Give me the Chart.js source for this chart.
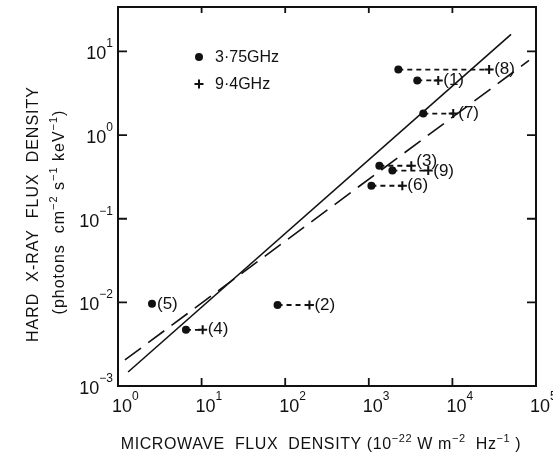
<!DOCTYPE html>
<html><head><meta charset="utf-8">
<script src="https://cdn.jsdelivr.net/npm/chart.js@4.4.1/dist/chart.umd.min.js"></script>
<style>html,body{margin:0;padding:0;background:#fff;}</style>
</head><body><canvas id="c" width="553" height="455"></canvas>
<script>
// ---- data ----
const eventLabels = ['(1)','(2)','(3)','(4)','(5)','(6)','(7)','(8)','(9)'];
const flux375 = [3800, 81, 1337, 6.5, 2.55, 1074, 4485, 2255, 1914];      // 3.75 GHz
const flux94  = [6770, 195, 3223, 10.3, null, 2518, 10230, 27500, 5140];  // 9.4 GHz
const hardXray = [4.5, 0.0093, 0.43, 0.0047, 0.0096, 0.248, 1.81, 6.08, 0.376];
const fitSolidX = [1.32, 50300];
const fitSolidY = [0.00147, 16.0];
const fitDashedX = [1.21, 82500];
const fitDashedY = [0.00205, 7.8];
const xTickValues = [1, 10, 100, 1000, 10000, 100000];
const xTickLabels = ['10^{0}','10^{1}','10^{2}','10^{3}','10^{4}','10^{5}'];
const yTickValues = [0.001, 0.01, 0.1, 1, 10];
const yTickLabels = ['10^{-3}','10^{-2}','10^{-1}','10^{0}','10^{1}'];
const legendLabels = ['3·75GHz', '9·4GHz'];
const xTitle = 'MICROWAVE  FLUX  DENSITY (10^{-22} W m^{-2}  Hz^{-1} )';
const yTitle = ['HARD  X-RAY  FLUX  DENSITY', '(photons  cm^{-2} s^{-1} keV^{-1})'];

// ---- styling ----
const INK = '#111';
const FONT = '"Liberation Sans", Arial, sans-serif';
const labelDy = [0, 0, -4, 0, 0, 0, 0, 0, 1];

// split "a^{b}c" into parts
function parseRich(s) {
  const parts = [];
  const re = /\^\{([^}]*)\}/g;
  let last = 0, m;
  while ((m = re.exec(s))) {
    if (m.index > last) parts.push({t: s.slice(last, m.index), sup: false});
    parts.push({t: m[1].replace(/-/g, '\u2212'), sup: true});
    last = re.lastIndex;
  }
  if (last < s.length) parts.push({t: s.slice(last), sup: false});
  return parts;
}
// draw rich text; align 'left' | 'right' | 'center'; y = alphabetic baseline
function drawRich(ctx, s, x, y, align, size, supSize, rise, spacing) {
  const parts = parseRich(s);
  ctx.save();
  ctx.textAlign = 'left';
  ctx.textBaseline = 'alphabetic';
  ctx.letterSpacing = (spacing || 0) + 'px';
  let total = 0;
  parts.forEach(p => {
    ctx.font = (p.sup ? supSize : size) + 'px ' + FONT;
    p.w = ctx.measureText(p.t).width;
    total += p.w;
  });
  let cx = align === 'left' ? x : align === 'right' ? x - total : x - total / 2;
  parts.forEach(p => {
    ctx.font = (p.sup ? supSize : size) + 'px ' + FONT;
    ctx.fillText(p.t, cx, p.sup ? y - rise : y);
    cx += p.w;
  });
  ctx.restore();
}

const datasets = [];
datasets.push({
  label: 'fit solid', showLine: true, pointRadius: 0, borderColor: INK, borderWidth: 1.6,
  data: fitSolidX.map((x, i) => ({x, y: fitSolidY[i]}))
});
datasets.push({
  label: 'fit dashed', showLine: true, pointRadius: 0, borderColor: INK, borderWidth: 1.6,
  borderDash: [20, 9],
  data: fitDashedX.map((x, i) => ({x, y: fitDashedY[i]}))
});
flux375.forEach((x, i) => {
  if (flux94[i] == null) return;
  datasets.push({
    label: 'link ' + eventLabels[i], showLine: true, pointRadius: 0, borderColor: INK,
    borderWidth: 1.8, borderDash: [5, 4],
    data: [{x, y: hardXray[i]}, {x: flux94[i], y: hardXray[i]}]
  });
});
datasets.push({
  label: legendLabels[0], pointStyle: 'circle', pointRadius: 4, backgroundColor: INK,
  borderColor: INK, borderWidth: 0,
  data: flux375.map((x, i) => ({x, y: hardXray[i]}))
});
datasets.push({
  label: legendLabels[1], pointStyle: 'cross', pointRadius: 4.5, borderColor: INK, borderWidth: 2,
  data: flux94.map((x, i) => x == null ? null : ({x, y: hardXray[i]})).filter(p => p)
});

const framePlugin = {
  id: 'frame',
  afterDatasetsDraw(chart) {
    const {ctx, chartArea: a, scales} = chart;
    ctx.save();
    ctx.strokeStyle = INK;
    ctx.fillStyle = INK;
    ctx.lineWidth = 2;
    ctx.strokeRect(a.left, a.top, a.right - a.left, a.bottom - a.top);
    ctx.lineWidth = 1.8;
    ctx.beginPath();
    xTickValues.forEach(v => {
      const px = scales.x.getPixelForValue(v);
      if (px > a.left + 2 && px < a.right - 2) {
        ctx.moveTo(px, a.bottom); ctx.lineTo(px, a.bottom - 8);
        ctx.moveTo(px, a.top); ctx.lineTo(px, a.top + 6);
      }
    });
    yTickValues.forEach(v => {
      const py = scales.y.getPixelForValue(v);
      if (py > a.top + 2 && py < a.bottom - 2) {
        ctx.moveTo(a.left, py); ctx.lineTo(a.left + 9, py);
        ctx.moveTo(a.right, py); ctx.lineTo(a.right - 9, py);
      }
    });
    ctx.stroke();

    // tick labels
    xTickValues.forEach((v, i) => {
      const px = scales.x.getPixelForValue(v);
      drawRich(ctx, xTickLabels[i], px - 6, a.bottom + 26, 'left', 18, 12, 12, 0);
    });
    yTickValues.forEach((v, i) => {
      const py = scales.y.getPixelForValue(v);
      drawRich(ctx, yTickLabels[i], a.left - 5, py + 8, 'right', 18, 12, 12, 0);
    });

    // event labels
    ctx.font = '17px ' + FONT;
    ctx.textAlign = 'left';
    ctx.textBaseline = 'middle';
    eventLabels.forEach((lab, i) => {
      const xv = flux94[i] != null ? flux94[i] : flux375[i];
      const px = scales.x.getPixelForValue(xv) + 5;
      const py = scales.y.getPixelForValue(hardXray[i]) + labelDy[i];
      ctx.fillText(lab, px, py);
    });

    // legend (inside plot, upper left)
    const lx = a.left + 81, ly1 = a.top + 50, ly2 = a.top + 77;
    ctx.beginPath(); ctx.arc(lx, ly1, 4, 0, Math.PI * 2); ctx.fill();
    ctx.lineWidth = 2;
    ctx.beginPath();
    ctx.moveTo(lx - 4.5, ly2); ctx.lineTo(lx + 4.5, ly2);
    ctx.moveTo(lx, ly2 - 4.5); ctx.lineTo(lx, ly2 + 4.5);
    ctx.stroke();
    ctx.font = '16px ' + FONT;
    ctx.fillText(legendLabels[0], lx + 16, ly1 + 1);
    ctx.fillText(legendLabels[1], lx + 16, ly2 + 1);

    // axis titles
    drawRich(ctx, xTitle, 321, 449, 'center', 16, 11, 7, 0.6);
    ctx.translate(32, 214);
    ctx.rotate(-Math.PI / 2);
    drawRich(ctx, yTitle[0], 0, 6, 'center', 16, 11, 7, 1);
    drawRich(ctx, yTitle[1], 2, 32, 'center', 16, 11, 7, 1);
    ctx.restore();
  }
};

const zeroPad = s => { s.paddingTop = 0; s.paddingBottom = 0; s.paddingLeft = 0; s.paddingRight = 0; };

new Chart(document.getElementById('c'), {
  type: 'scatter',
  data: {datasets},
  options: {
    responsive: false,
    devicePixelRatio: 1,
    animation: false,
    layout: {padding: {left: 0, right: 17, top: 7, bottom: 0}},
    plugins: {legend: {display: false}, tooltip: {enabled: false}},
    scales: {
      x: {
        type: 'logarithmic', min: 1, max: 100000,
        afterBuildTicks: s => { s.ticks = xTickValues.map(v => ({value: v})); },
        afterFit: s => { s.height = 69; zeroPad(s); },
        grid: {display: false, drawTicks: false},
        border: {display: false},
        ticks: {display: false}
      },
      y: {
        type: 'logarithmic', min: 0.001, max: 34,
        afterBuildTicks: s => { s.ticks = yTickValues.map(v => ({value: v})); },
        afterFit: s => { s.width = 118; zeroPad(s); },
        grid: {display: false, drawTicks: false},
        border: {display: false},
        ticks: {display: false}
      }
    }
  },
  plugins: [framePlugin]
});
</script>
</body></html>
